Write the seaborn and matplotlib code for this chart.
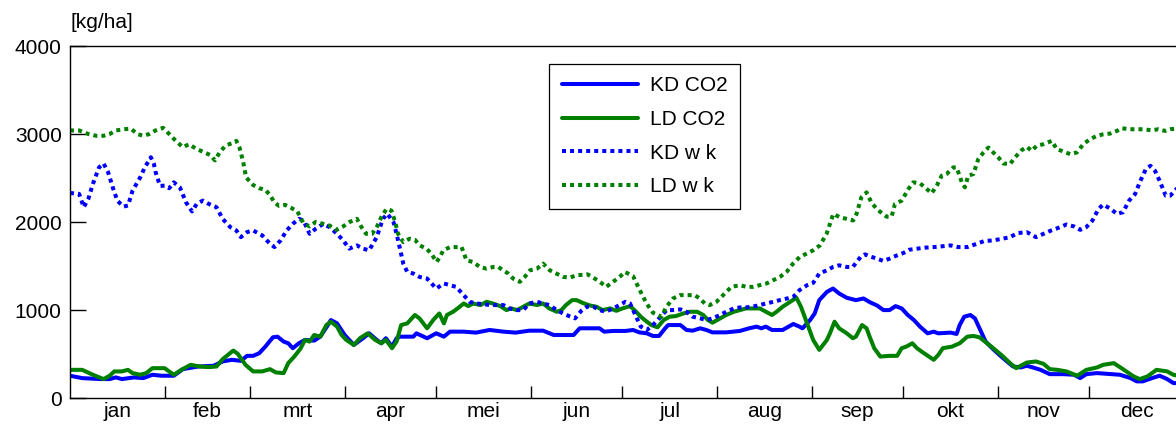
import matplotlib
matplotlib.use("Agg")
import matplotlib.pyplot as plt
import pandas as pd
import seaborn as sns

# Daily dry-matter production [kg/ha] over the year, as (day of year, value)
kd_co2 = [(0, 253), (4, 226), (10, 215), (13, 215), (15, 234), (17, 215), (21, 234), (24, 226),
          (27, 264), (30, 253), (34, 253), (37, 328), (42, 358), (47, 366), (50, 415), (53, 434),
          (56, 422), (58, 479), (60, 479), (62, 509), (64, 584), (66.5, 690), (68, 697), (70, 641),
          (71.5, 622), (73, 566), (75, 622), (77, 660), (80, 652), (82, 697), (84.5, 829), (85.5, 886),
          (87.5, 848), (90, 716), (93, 603), (96, 679), (98, 735), (100.5, 660), (102, 622),
          (103.5, 679), (105.5, 584), (107, 679), (108, 697), (112.5, 697), (113.5, 735), (117, 679),
          (120, 735), (122.5, 697), (124.5, 754), (129, 754), (133, 743), (137.5, 773), (142, 754),
          (146, 743), (150.5, 765), (155, 765), (158.5, 716), (165, 716), (167, 792), (173.5, 792),
          (175, 754), (178, 762), (182, 762), (184.5, 773), (186.5, 746), (189, 735), (191, 705),
          (193, 705), (195, 792), (196, 829), (200, 829), (202, 773), (204, 765), (206.5, 792),
          (208.5, 773), (210.5, 746), (215, 746), (219.5, 762), (222.5, 792), (225, 811), (226.5, 792),
          (228, 811), (230, 773), (233.5, 773), (237, 841), (239, 811), (240, 792), (242.5, 886),
          (244, 961), (245.5, 1112), (248, 1206), (250, 1244), (252, 1188), (254.5, 1139),
          (257.5, 1112), (260, 1131), (262, 1090), (264.5, 1050), (266.5, 999), (268.5, 999),
          (270.5, 1044), (272.5, 1018), (274.5, 943), (276.5, 886), (278.5, 811), (281, 735),
          (283, 754), (284.5, 735), (288.5, 743), (290.5, 728), (291.5, 829), (293, 924), (295, 943),
          (296.5, 905), (298, 792), (300, 641), (302.5, 554), (304.5, 490), (307, 415), (309, 358),
          (311.5, 347), (313.5, 366), (315.5, 347), (318, 320), (321, 271), (325.5, 271), (329, 264),
          (331, 226), (333, 271), (336.5, 283), (341, 271), (344, 264), (347.5, 226), (349.5, 189),
          (351.5, 189), (354.5, 226), (357, 253), (359.5, 215), (361.5, 170), (365, 165)]

ld_co2 = [(0, 320), (4, 320), (7.5, 264), (11, 215), (13, 253), (14.5, 302), (17, 302), (19, 320),
          (20.5, 283), (23, 264), (25, 283), (27, 339), (31, 339), (34, 264), (36.5, 320),
          (39.5, 377), (42.5, 358), (45.5, 351), (48, 358), (50, 441), (53.5, 539), (55, 501),
          (57.5, 377), (60, 302), (63, 302), (65.5, 328), (67.5, 290), (70, 283), (71.5, 396),
          (73.5, 471), (75.5, 560), (77, 660), (78.5, 641), (80, 716), (82, 697), (84, 829),
          (85.5, 867), (87.5, 811), (89, 716), (90.5, 660), (93, 603), (95, 679), (97.5, 735),
          (100, 660), (102, 622), (103.5, 660), (105.5, 566), (107, 641), (108.5, 829), (110.5, 848),
          (112, 905), (113, 943), (114.5, 905), (117, 792), (119, 886), (121, 961), (122.5, 848),
          (123.5, 943), (125.5, 980), (127, 1018), (129, 1074), (130.5, 1044), (132, 1074),
          (134.5, 1056), (136.5, 1093), (138.5, 1074), (141, 1044), (143, 999), (144.5, 1018),
          (146.5, 999), (148.5, 1037), (150.5, 1074), (153, 1056), (155, 1074), (157, 1018),
          (159.5, 980), (161, 999), (162.5, 1056), (164.5, 1112), (166, 1112), (168, 1080),
          (170.5, 1050), (172.5, 1037), (174.5, 999), (177, 1018), (179, 991), (181, 1018),
          (183.5, 1044), (185.5, 980), (187, 924), (189, 867), (190.5, 829), (192.5, 803),
          (194.5, 886), (196.5, 924), (198.5, 931), (201, 961), (203, 980), (205.5, 980),
          (207.5, 943), (209, 886), (210.5, 856), (213, 905), (215, 943), (217.5, 980), (219.5, 999),
          (221.5, 1018), (224, 1018), (226, 1018), (228, 980), (230, 943), (231.5, 980),
          (233.5, 1037), (236, 1093), (238, 1139), (239.5, 1037), (241.5, 848), (243.5, 660),
          (245.5, 547), (248, 660), (249, 735), (250.5, 867), (252, 792), (254.5, 735), (256.5, 679),
          (257.5, 697), (259.5, 829), (261, 792), (262, 697), (263.5, 566), (265.5, 471),
          (268.5, 479), (271, 479), (272.5, 566), (274, 584), (276, 622), (277.5, 566), (279.5, 516),
          (283, 434), (284.5, 490), (286, 566), (289, 584), (291.5, 622), (294, 697), (296, 705),
          (298, 690), (300.5, 622), (302.5, 566), (305.5, 479), (308, 396), (310, 339),
          (313.5, 403), (316.5, 415), (319, 388), (321, 328), (323.5, 320), (326.5, 302),
          (330, 253), (333, 320), (336.5, 347), (338.5, 377), (342, 396), (345, 328), (348.5, 245),
          (350.5, 215), (353, 245), (356, 320), (359.5, 302), (361.5, 264), (365, 240)]

kd_wk = [(0, 2330), (3, 2319), (4.5, 2168), (6, 2262), (7.5, 2432), (9.5, 2620), (11, 2665),
         (12.5, 2564), (14, 2394), (15.5, 2243), (17.5, 2175), (19, 2187), (20.5, 2356), (23, 2507),
         (24.5, 2620), (26.5, 2736), (27.5, 2658), (28, 2573), (29.5, 2410), (31, 2413),
         (32.5, 2384), (34, 2451), (36, 2394), (38, 2224), (40, 2120), (41.5, 2205), (43.5, 2243),
         (45.5, 2205), (48, 2168), (50, 2036), (52.5, 1942), (54.5, 1904), (56, 1828), (58, 1885),
         (60, 1904), (63, 1847), (65.5, 1753), (67, 1715), (69, 1791), (71, 1904), (73, 1979),
         (75, 2036), (76.5, 2017), (78.5, 1866), (80.5, 1923), (83, 1979), (85, 1942), (87.5, 1866),
         (89.5, 1791), (91.5, 1697), (94, 1734), (96, 1697), (98, 1678), (100.5, 1828),
         (102.5, 2036), (104, 2092), (106, 1998), (107, 1866), (108, 1715), (109.2, 1527),
         (110.5, 1433), (112.5, 1414), (114.5, 1376), (117, 1357), (118.5, 1301), (120, 1244),
         (122.5, 1301), (124.5, 1282), (126.5, 1263), (129, 1169), (131, 1093), (133, 1074),
         (135.5, 1067), (137.5, 1056), (140, 1056), (142, 1056), (144, 1018), (146.5, 999),
         (148.5, 999), (150.5, 1074), (153, 1093), (155, 1074), (157, 1056), (159.5, 999),
         (161.5, 961), (164, 924), (165.5, 905), (167.5, 990), (169.5, 1040), (171.5, 1037),
         (173.5, 999), (175.5, 980), (178, 1018), (180, 1056), (182, 1093), (183.5, 1074),
         (185.5, 924), (187, 811), (189, 773), (191, 829), (193, 905), (195.5, 999), (197.5, 999),
         (200, 1007), (202, 980), (204, 924), (206.5, 905), (208.5, 886), (210.5, 905), (213, 943),
         (215, 980), (217.5, 1018), (219.5, 1029), (221.5, 1029), (224, 1041), (226, 1056),
         (228, 1074), (230.5, 1093), (232.5, 1112), (235, 1131), (237, 1150), (239, 1225),
         (241.5, 1282), (243.5, 1308), (245.5, 1414), (248, 1451), (250, 1489), (252, 1508),
         (254.5, 1489), (256.5, 1489), (259, 1602), (260.5, 1632), (262, 1610), (264.5, 1583),
         (266.5, 1557), (268.5, 1583), (271, 1621), (273, 1647), (275, 1685), (277.5, 1697),
         (280, 1708), (283, 1715), (285.5, 1723), (288.5, 1734), (291, 1715), (294, 1715),
         (296.5, 1745), (299.5, 1783), (302.5, 1791), (305.5, 1810), (308, 1828), (310.5, 1874),
         (313.5, 1885), (316.5, 1828), (319, 1866), (321.5, 1904), (324.5, 1942), (326.5, 1972),
         (329, 1949), (331, 1911), (333, 1942), (335, 2017), (337, 2149), (338.5, 2198),
         (341, 2149), (343, 2092), (345, 2111), (347, 2243), (349, 2319), (350.5, 2451),
         (352.5, 2601), (354, 2639), (355.5, 2582), (357, 2469), (359, 2300), (360.5, 2300),
         (362.5, 2375), (365, 2400)]

ld_wk = [(0, 3040), (3, 3040), (6, 3000), (8.5, 2980), (11, 2980), (13, 3000), (15, 3040),
         (18, 3055), (20, 3060), (22, 3000), (24, 2980), (26, 3000), (28, 3040), (30.5, 3070),
         (32.5, 3000), (35, 2910), (37, 2850), (39, 2884), (41.5, 2828), (43.5, 2800), (46, 2760),
         (47.5, 2700), (49, 2790), (51, 2870), (53.5, 2900), (54.5, 2922), (55.5, 2850),
         (56.7, 2690), (57.7, 2507), (60, 2420), (62, 2384), (64, 2365), (65.5, 2308), (67, 2221),
         (68.5, 2183), (70.5, 2194), (72.5, 2160), (74.5, 2120), (76.5, 1985), (78.5, 1950),
         (80.5, 2000), (83, 1979), (85, 1960), (87.3, 1910), (89.5, 1950), (91.5, 1998),
         (94, 2036), (95.5, 1942), (97, 1866), (99, 1866), (100.5, 1942), (102, 2055),
         (103.7, 2149), (105.3, 2130), (106.4, 2017), (107.5, 1866), (109.2, 1772), (111.3, 1810),
         (113, 1798), (114.6, 1734), (116.8, 1697), (118.4, 1640), (120.1, 1546), (121.2, 1602),
         (122.3, 1678), (124.5, 1715), (126.6, 1715), (128.3, 1715), (129.9, 1565), (132, 1546),
         (134.3, 1489), (136.5, 1470), (138.7, 1489), (140.3, 1489), (142, 1451), (143.6, 1414),
         (145.2, 1357), (147.4, 1320), (149, 1376), (150.7, 1451), (153, 1470), (155, 1527),
         (157.2, 1451), (159.4, 1414), (161.6, 1376), (163.8, 1369), (166, 1395), (168, 1400),
         (169.5, 1406), (171.4, 1369), (173.6, 1320), (175.7, 1263), (177.9, 1320), (180.1, 1376),
         (181.8, 1433), (184.5, 1384), (186.7, 1225), (188.9, 1074), (191, 969), (193.8, 924),
         (195.4, 1037), (197.6, 1131), (199.8, 1169), (202, 1169), (204.7, 1169), (206.3, 1131),
         (208, 1074), (209.6, 1056), (211.8, 1093), (214, 1169), (216.7, 1263), (219.5, 1282),
         (221.6, 1263), (223.8, 1263), (226, 1282), (228.2, 1301), (230.4, 1338), (232.6, 1376),
         (234.8, 1433), (236.9, 1527), (239.1, 1602), (241.3, 1640), (243.5, 1678), (245.7, 1734),
         (247.9, 1866), (250.1, 2092), (252.2, 2055), (254.4, 2036), (256.6, 2017), (257.7, 2092),
         (259.3, 2281), (261, 2337), (262.6, 2220), (264.3, 2150), (266, 2100), (267.6, 2060),
         (269.2, 2062), (270.3, 2205), (272.5, 2243), (274.7, 2375), (276.3, 2451), (278.5, 2439),
         (280.1, 2394), (282.3, 2326), (284, 2413), (285.6, 2526), (287.2, 2545), (289.4, 2620),
         (290.5, 2620), (292.2, 2451), (293.2, 2394), (294.3, 2526), (296, 2545), (297.6, 2715),
         (299.3, 2790), (300.9, 2846), (302.5, 2790), (304.2, 2733), (305.8, 2665), (308, 2658),
         (309.6, 2733), (311.8, 2816), (313.5, 2854), (315.1, 2809), (316.7, 2865), (318.9, 2884),
         (321.7, 2922), (323.3, 2828), (324.9, 2809), (327.7, 2771), (329.9, 2790), (332, 2884),
         (334.2, 2941), (336.4, 2978), (338.6, 2997), (340.8, 3005), (343, 3035), (344.6, 3065),
         (347.3, 3054), (349.5, 3054), (351.7, 3054), (354.4, 3042), (356.6, 3054), (358.8, 3035),
         (360.5, 3054), (362.4, 3061), (365, 3060)]

series_labels = ["KD CO2", "LD CO2", "KD w k", "LD w k"]
month_names = ["jan", "feb", "mrt", "apr", "mei", "jun", "jul", "aug", "sep", "okt", "nov", "dec"]
month_starts = [0, 31, 59, 90, 120, 151, 181, 212, 243, 273, 304, 334, 365]
y_ticks = [0, 1000, 2000, 3000, 4000]

sns.set_style("ticks")
plt.rcParams["font.family"] = ["Liberation Sans", "DejaVu Sans"]
plt.rcParams["text.color"] = "black"
plt.rcParams["xtick.color"] = "black"
plt.rcParams["ytick.color"] = "black"
plt.rcParams["axes.labelcolor"] = "black"

BLUE = "#0000ff"
GREEN = "#008000"
styles = [
    (kd_co2, BLUE, "-"),
    (ld_co2, GREEN, "-"),
    (kd_wk, BLUE, (0, (1, 1))),
    (ld_wk, GREEN, (0, (1, 1))),
]

fig = plt.figure(figsize=(11.76, 4.29), dpi=100)
ax = fig.add_axes([70 / 1176, 31 / 429, 1114 / 1176, 352 / 429])

for (pairs, color, ls), label in zip(styles, series_labels):
    df = pd.DataFrame(pairs, columns=["day", "kg"])
    sns.lineplot(data=df, x="day", y="kg", ax=ax, color=color, linewidth=2.9,
                 linestyle=ls, label=label, sort=True, estimator=None)

ax.set_xlim(0, 365)
ax.set_ylim(0, 4000)
ax.set_xlabel("")
ax.set_ylabel("")

# month boundaries as inward tick marks, month names centred between them
ax.set_xticks(month_starts[1:-1])
ax.set_xticklabels([])
mids = [(a + b) / 2 for a, b in zip(month_starts[:-1], month_starts[1:])]
ax.set_xticks(mids, minor=True)
ax.set_xticklabels(month_names, minor=True)
ax.tick_params(axis="x", which="major", direction="in", length=8.6, width=1,
               color="black", bottom=True)
ax.tick_params(axis="x", which="minor", length=0, pad=3, labelsize=15,
               labelcolor="black", bottom=True)

ax.set_yticks(y_ticks)
ax.set_yticklabels([str(v) for v in y_ticks])
ax.tick_params(axis="y", direction="in", length=11.5, width=1, color="black",
               pad=6, labelsize=15, labelcolor="black", left=True)

for sp in ax.spines.values():
    sp.set_color("black")
    sp.set_linewidth(1)
    sp.set_visible(True)

leg = ax.legend(loc="upper left", bbox_to_anchor=(0.43, 0.949), frameon=True,
                fancybox=False, edgecolor="black", framealpha=1, fontsize=15,
                handlelength=3.65, handletextpad=0.6, borderpad=0.6,
                labelspacing=0.7, borderaxespad=0)
leg.get_frame().set_linewidth(0.9)
for t in leg.get_texts():
    t.set_color("black")

fig.text(70 / 1176, 1 - 22 / 429, "[kg/ha]", ha="left", va="center", fontsize=15,
         color="black")

fig.savefig("out.png", dpi=100)
